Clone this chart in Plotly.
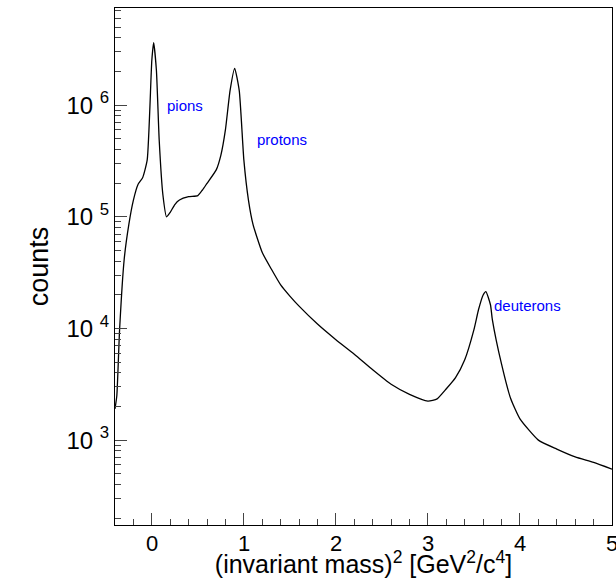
import numpy as np
import plotly.graph_objects as go

mass2 = [-0.4,-0.38,-0.35,-0.3,-0.25,-0.2,-0.15,-0.1,-0.05,0.0,0.02,0.05,0.08,0.12,0.16,0.2,0.25,0.3,0.4,0.5,0.55,0.6,0.7,0.75,0.8,0.85,0.9,0.95,1.0,1.05,1.1,1.2,1.3,1.4,1.5,1.6,1.8,2.0,2.2,2.4,2.6,2.8,3.0,3.1,3.2,3.3,3.4,3.5,3.55,3.6,3.63,3.68,3.7,3.8,3.9,4.0,4.2,4.4,4.6,4.8,5.0]
log_counts = [3.28,3.4,3.99,4.62,4.93,5.15,5.29,5.35,5.51,6.4,6.56,6.31,5.69,5.2,5.0,5.04,5.11,5.15,5.18,5.19,5.24,5.30,5.42,5.55,5.78,6.13,6.33,6.13,5.51,5.15,4.93,4.68,4.53,4.39,4.29,4.2,4.04,3.9,3.77,3.63,3.5,3.41,3.35,3.37,3.46,3.56,3.72,3.99,4.17,4.3,4.33,4.21,4.08,3.68,3.37,3.19,3.0,2.92,2.85,2.8,2.74]
counts = [10**v for v in log_counts]
labels = [("pions", 0.14, 6.0), ("protons", 1.12, 5.69), ("deuterons", 3.7, 4.21)]
x_ticks = [0, 1, 2, 3, 4, 5]
y_minor = [m * 10**d for d in range(2, 7) for m in range(2, 10)]

fig = go.Figure(go.Scatter(x=mass2, y=counts, mode="lines", line=dict(color="black", width=1.3, shape="spline", smoothing=0.5)))
for t, x, y in labels:
    fig.add_annotation(x=x, y=y, text=t, showarrow=False, xanchor="left", font=dict(color="blue", size=15))
for v in x_ticks:
    fig.add_annotation(x=v, y=0, yref="paper", yshift=-4, text=str(v), showarrow=False,
                       yanchor="top", font=dict(size=22))
fig.update_layout(
    width=616, height=583, margin=dict(l=115, r=4, t=8, b=58, autoexpand=False),
    plot_bgcolor="white", paper_bgcolor="white", showlegend=False,
    font=dict(family="Liberation Sans", color="black"),
)
fig.update_xaxes(range=[-0.4, 5.0], tickvals=x_ticks, showticklabels=False, ticks="inside", ticklen=12,
                 showline=True, linecolor="black", mirror=True, showgrid=False, zeroline=False,
                 automargin=False, minor=dict(dtick=0.2, ticks="inside", ticklen=6),
                 title=dict(text="(invariant mass)<sup>2</sup> [GeV<sup>2</sup>/c<sup>4</sup>]", font=dict(size=25), standoff=30))
fig.update_yaxes(type="log", range=[2.24, 6.87], tickvals=[1e3,1e4,1e5,1e6],
                 ticktext=["10 <sup>3</sup>","10 <sup>4</sup>","10 <sup>5</sup>","10 <sup>6</sup>"],
                 ticks="inside", ticklen=12, showline=True, linecolor="black", mirror=True,
                 showgrid=False, automargin=False, tickfont=dict(size=24),
                 minor=dict(tickvals=y_minor, ticks="inside", ticklen=6),
                 title=dict(text="counts", font=dict(size=27), standoff=10))
fig.write_html("out.html", config={"displayModeBar": False}, post_script="document.body.style.margin='0';")
